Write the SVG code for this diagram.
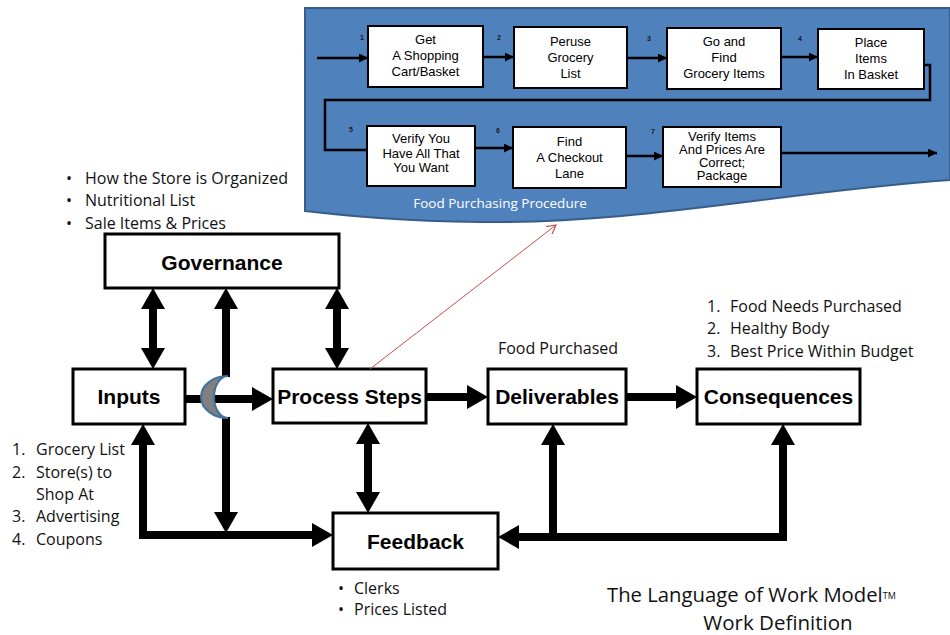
<svg xmlns="http://www.w3.org/2000/svg" width="950" height="635" viewBox="0 0 950 635">
  <style>
    .box { fill: #ffffff; stroke: #000000; stroke-width: 3; }
    .step { fill: #ffffff; stroke: #000000; stroke-width: 2; }
    .title { font-family: "Liberation Sans", Arial, sans-serif; font-weight: bold; font-size: 21px; fill: #000; text-anchor: middle; }
    .stxt { font-family: "Liberation Sans", Arial, sans-serif; font-size: 13px; fill: #000; text-anchor: middle; }
    .num { font-family: "Liberation Sans", Arial, sans-serif; font-size: 7px; font-weight: bold; fill: #1a1a1a; }
    .note { font-family: "Open Sans", "Noto Sans", sans-serif; font-size: 16px; fill: #111; }
    .thick { fill: none; stroke: #000; stroke-width: 8; stroke-linejoin: miter; }
    .thin { fill: none; stroke: #000; stroke-width: 2.5; }
  </style>
  <defs>
    <!-- big head for the 8px connectors; placed beyond the line end -->
    <marker id="head" viewBox="0 0 21 24" refX="0" refY="12" markerWidth="21" markerHeight="24" markerUnits="userSpaceOnUse" orient="auto-start-reverse">
      <path d="M0,0 L21,12 L0,24 Z" fill="#000"/>
    </marker>
    <!-- small head for the procedure flow -->
    <marker id="small" viewBox="0 0 9 9" refX="9" refY="4.5" markerWidth="9" markerHeight="9" markerUnits="userSpaceOnUse" orient="auto">
      <path d="M0,0 L9,4.5 L0,9 Z" fill="#000"/>
    </marker>
    <marker id="red" viewBox="0 0 10 10" refX="9" refY="5" markerWidth="10" markerHeight="10" markerUnits="userSpaceOnUse" orient="auto">
      <path d="M0,0 L9,5 L0,10" fill="none" stroke="#c0504d" stroke-width="1.2"/>
    </marker>
  </defs>

  <!-- Procedure banner -->
  <g id="procedure">
    <path d="M305,8 L950,8 L950,180 C 780,192 640,224 480,222 C 400,221 350,216 305,211 Z" fill="#4f81bd" stroke="#385d8a" stroke-width="2"/>
    <text x="500" y="208" font-family="Open Sans, Noto Sans, sans-serif" font-size="13.5" fill="#ffffff" text-anchor="middle">Food Purchasing Procedure</text>

    <g id="step1">
      <rect class="step" x="368" y="26" width="115" height="61"/>
      <text class="stxt" x="425.5" y="44">Get</text>
      <text class="stxt" x="425.5" y="60">A Shopping</text>
      <text class="stxt" x="425.5" y="76">Cart/Basket</text>
      <text class="num" x="360" y="40">1</text>
    </g>
    <g id="step2">
      <rect class="step" x="514" y="27" width="113" height="61"/>
      <text class="stxt" x="570.5" y="46">Peruse</text>
      <text class="stxt" x="570.5" y="62">Grocery</text>
      <text class="stxt" x="570.5" y="78">List</text>
      <text class="num" x="497" y="40">2</text>
    </g>
    <g id="step3">
      <rect class="step" x="667" y="28" width="114" height="61"/>
      <text class="stxt" x="724" y="46">Go and</text>
      <text class="stxt" x="724" y="62">Find</text>
      <text class="stxt" x="724" y="78">Grocery Items</text>
      <text class="num" x="647" y="41">3</text>
    </g>
    <g id="step4">
      <rect class="step" x="818" y="29" width="106" height="60"/>
      <text class="stxt" x="871" y="47">Place</text>
      <text class="stxt" x="871" y="63">Items</text>
      <text class="stxt" x="871" y="79">In Basket</text>
      <text class="num" x="798" y="41">4</text>
    </g>
    <g id="step5">
      <rect class="step" x="367" y="126" width="108" height="60"/>
      <text class="stxt" x="421" y="143" font-size="12">Verify You</text>
      <text class="stxt" x="421" y="158" font-size="12">Have All That</text>
      <text class="stxt" x="421" y="172" font-size="12">You Want</text>
      <text class="num" x="349" y="132">5</text>
    </g>
    <g id="step6">
      <rect class="step" x="513" y="127" width="113" height="61"/>
      <text class="stxt" x="569.5" y="146">Find</text>
      <text class="stxt" x="569.5" y="162">A Checkout</text>
      <text class="stxt" x="569.5" y="178">Lane</text>
      <text class="num" x="496" y="133">6</text>
    </g>
    <g id="step7">
      <rect class="step" x="663" y="127" width="118" height="60"/>
      <text class="stxt" x="722" y="140.5" font-size="12">Verify Items</text>
      <text class="stxt" x="722" y="153.5" font-size="12">And Prices Are</text>
      <text class="stxt" x="722" y="166.5" font-size="12">Correct;</text>
      <text class="stxt" x="722" y="179.5" font-size="12">Package</text>
      <text class="num" x="651" y="134">7</text>
    </g>

    <g id="procedure-flow">
      <path class="thin" d="M317,58 H368" marker-end="url(#small)"/>
      <path class="thin" d="M483,57 H514" marker-end="url(#small)"/>
      <path class="thin" d="M627,58 H667" marker-end="url(#small)"/>
      <path class="thin" d="M781,57 H818" marker-end="url(#small)"/>
      <path class="thin" d="M924,65 H930 V100 H325 V150 H367"/>
      <path class="thin" d="M475,148 H513" marker-end="url(#small)"/>
      <path class="thin" d="M626,156 H663" marker-end="url(#small)"/>
      <path class="thin" d="M781,153 H937" marker-end="url(#small)"/>
    </g>
  </g>

  <!-- Main model boxes -->
  <g id="governance">
    <rect class="box" x="105" y="234" width="234" height="54"/>
    <text class="title" x="222" y="270">Governance</text>
  </g>
  <g id="inputs">
    <rect class="box" x="73" y="369" width="112" height="55"/>
    <text class="title" x="129" y="404">Inputs</text>
  </g>
  <g id="process-steps">
    <rect class="box" x="273" y="369" width="153" height="54"/>
    <text class="title" x="349.5" y="404">Process Steps</text>
  </g>
  <g id="deliverables">
    <rect class="box" x="488" y="369" width="138" height="55"/>
    <text class="title" x="557" y="404">Deliverables</text>
  </g>
  <g id="consequences">
    <rect class="box" x="697" y="369" width="163" height="55"/>
    <text class="title" x="778.5" y="404">Consequences</text>
  </g>
  <g id="feedback">
    <rect class="box" x="333" y="513" width="165" height="56"/>
    <text class="title" x="415.5" y="549">Feedback</text>
  </g>

  <!-- Connectors -->
  <g id="connectors">
    <path class="thick" d="M153,309 V348" marker-start="url(#head)" marker-end="url(#head)"/>
    <path class="thick" d="M337,309 V348" marker-start="url(#head)" marker-end="url(#head)"/>
    <path class="thick" d="M226,377 V309" marker-end="url(#head)"/>
    <path class="thick" d="M226,417 V512" marker-end="url(#head)"/>
    <path class="thick" d="M185,399 H252" marker-end="url(#head)"/>
    <path class="thick" d="M426,397 H467" marker-end="url(#head)"/>
    <path class="thick" d="M626,397 H676" marker-end="url(#head)"/>
    <path class="thick" d="M368,444 V492" marker-start="url(#head)" marker-end="url(#head)"/>
    <path class="thick" d="M143,445 V535 H312" marker-start="url(#head)" marker-end="url(#head)"/>
    <path class="thick" d="M519,537 H783 V445" marker-start="url(#head)" marker-end="url(#head)"/>
    <path class="thick" d="M553,537 V445" marker-end="url(#head)"/>
    <!-- crossing hop -->
    <path d="M228,376 A27,21 0 0 0 228,418 A14,21 0 0 1 228,376 Z" fill="#808080" stroke="#41719c" stroke-width="2"/>
    <!-- link to the procedure -->
    <path d="M370,369 L556,225" fill="none" stroke="#c0504d" stroke-width="1" marker-end="url(#red)"/>
  </g>

  <!-- Annotations -->
  <g id="notes">
    <g class="note">
      <text x="66" y="184">•</text><text x="85" y="184">How the Store is Organized</text>
      <text x="66" y="206">•</text><text x="85" y="206">Nutritional List</text>
      <text x="66" y="229">•</text><text x="85" y="229">Sale Items &amp; Prices</text>
    </g>
    <g class="note">
      <text x="12" y="455">1.</text><text x="36" y="455">Grocery List</text>
      <text x="12" y="478">2.</text><text x="36" y="478">Store(s) to</text>
      <text x="36" y="500">Shop At</text>
      <text x="12" y="522">3.</text><text x="36" y="522">Advertising</text>
      <text x="12" y="545">4.</text><text x="36" y="545">Coupons</text>
    </g>
    <g class="note">
      <text x="707" y="312">1.</text><text x="730" y="312">Food Needs Purchased</text>
      <text x="707" y="334">2.</text><text x="730" y="334">Healthy Body</text>
      <text x="707" y="357">3.</text><text x="730" y="357">Best Price Within Budget</text>
    </g>
    <text class="note" x="558" y="354" text-anchor="middle">Food Purchased</text>
    <g class="note">
      <text x="338" y="594">•</text><text x="354" y="594">Clerks</text>
      <text x="338" y="615">•</text><text x="354" y="615">Prices Listed</text>
    </g>
    <text x="607" y="602" font-family="Open Sans, Noto Sans, sans-serif" font-size="20.3" fill="#111">The Language of Work Model<tspan font-size="9" dy="-3">TM</tspan></text>
    <text x="778" y="630" font-family="Open Sans, Noto Sans, sans-serif" font-size="20.5" fill="#111" text-anchor="middle">Work Definition</text>
  </g>
</svg>
